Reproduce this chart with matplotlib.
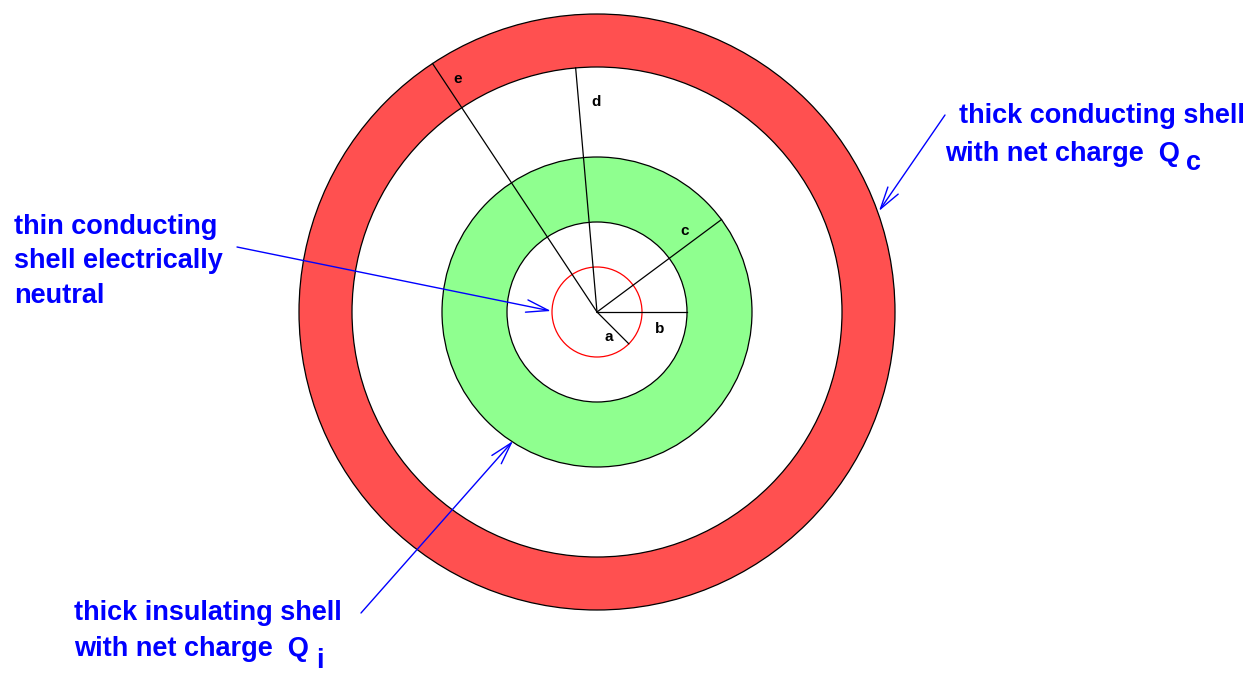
import numpy as np
import matplotlib
matplotlib.use("Agg")
import matplotlib.pyplot as plt
from matplotlib.patches import Circle, Wedge

# ---- data ----
center = (597, 312)
radius_names = ["a", "b", "c", "d", "e"]
radii = [45, 90, 155, 245, 298]
radius_angles = [-45, 0, 36.6, 95, 123.5]          # degrees, direction of each radius line
label_pos = [(609, 337), (660, 329), (685, 231), (596, 102), (458, 79)]

ring_fill = {"green": (2, 1, "#8fff8f"), "red": (4, 3, "#ff5050")}  # (outer idx, inner idx, colour)

texts = [
    ("thin conducting\nshell electrically\nneutral", (14, 214)),
    ("thick conducting shell", (959, 103)),
    ("with net charge  Q", (945, 141)),
    ("thick insulating shell", (74, 600)),
    ("with net charge  Q", (74, 636)),
]
subscripts = [("c", (1186, 150)), ("i", (316, 648))]

arrows = [
    ((237, 247), (551, 311)),
    ((945, 115), (879, 211)),
    ((361, 613), (513, 441)),
]

BLUE = "#0000ff"
FS = 19.5

fig = plt.figure(figsize=(12.52, 6.73), dpi=100)
ax = fig.add_axes([0, 0, 1, 1])
ax.set_xlim(0, 1252)
ax.set_ylim(673, 0)
ax.axis("off")

cx, cy = center
# rings
for name, (o, i, col) in ring_fill.items():
    ax.add_patch(Wedge(center, radii[o], 0, 360, width=radii[o] - radii[i],
                       facecolor=col, edgecolor="none", zorder=1))
# boundary circles
for k, r in enumerate(radii):
    col = "#ff0000" if k == 0 else "black"
    ax.add_patch(Circle(center, r, facecolor="none", edgecolor=col, lw=0.9, zorder=3))

# radius lines
for r, ang in zip(radii, radius_angles):
    t = np.deg2rad(ang)
    ax.plot([cx, cx + r * np.cos(t)], [cy, cy - r * np.sin(t)], color="black", lw=0.9, zorder=4)

for name, (x, y) in zip(radius_names, label_pos):
    ax.text(x, y, name, fontsize=11, fontweight="bold", family="Liberation Sans",
            ha="center", va="center", zorder=5)

for s, (x, y) in texts:
    ax.text(x, y, s, fontsize=FS, fontweight="bold", family="Liberation Sans", color=BLUE,
            ha="left", va="top", linespacing=1.42, zorder=5)
for s, (x, y) in subscripts:
    ax.text(x, y, s, fontsize=FS, fontweight="bold", family="Liberation Sans", color=BLUE,
            ha="left", va="top", zorder=5)

for (x0, y0), (x1, y1) in arrows:
    ax.annotate("", xy=(x1, y1), xytext=(x0, y0),
                arrowprops=dict(arrowstyle="->,head_length=1.6,head_width=0.45",
                                color=BLUE, lw=1.0, shrinkA=0, shrinkB=0), zorder=6)

fig.savefig("out.png", dpi=100)
